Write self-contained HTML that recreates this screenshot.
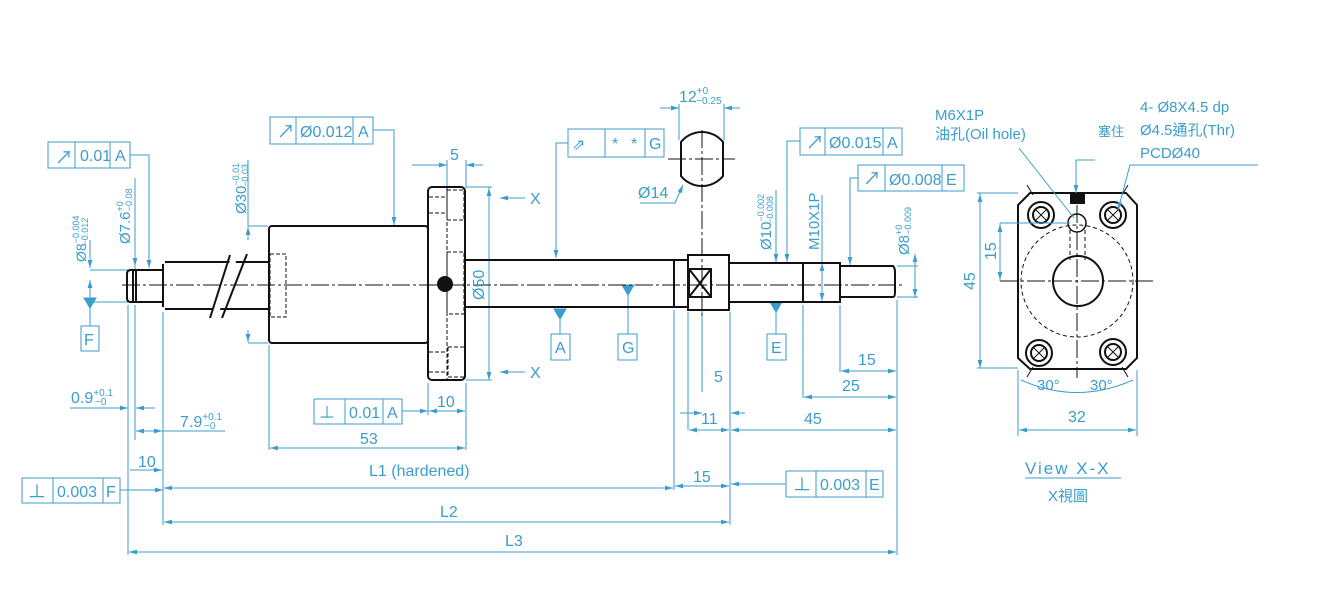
<!DOCTYPE html>
<html><head><meta charset="utf-8"><style>
html,body{margin:0;padding:0;background:#fff;}
svg{display:block;}
text{font-family:"Liberation Sans","Noto Sans CJK TC",sans-serif;fill:#3b9dcb;}
.n{font-family:"DejaVu Sans Condensed","Liberation Sans Narrow","Liberation Sans",sans-serif;font-stretch:condensed;}
</style></head><body>
<svg width="1338" height="606" viewBox="0 0 1338 606" xmlns="http://www.w3.org/2000/svg">
<defs>
<marker id="a" viewBox="0 0 10 6" refX="10" refY="3" markerWidth="8" markerHeight="5" orient="auto-start-reverse"><path d="M0,0L10,3L0,6z" fill="#3b9dcb"/></marker>
</defs>
<g fill="none" stroke="#3b9dcb" stroke-width="1">
<!-- left FCF 0.01 A -->
<rect x="48" y="142" width="82" height="26"/><line x1="75" y1="142" x2="75" y2="168"/><line x1="110" y1="142" x2="110" y2="168"/>
<path d="M130,155H149V268" marker-end="url(#a)"/>
<!-- FCF 0.012 A -->
<rect x="270" y="117" width="103" height="27"/><line x1="296" y1="117" x2="296" y2="144"/><line x1="353" y1="117" x2="353" y2="144"/>
<path d="M373,130H394V225" marker-end="url(#a)"/>
<!-- FCF G -->
<rect x="568" y="129" width="96" height="28"/><line x1="605" y1="129" x2="605" y2="157"/><line x1="645" y1="129" x2="645" y2="157"/>
<path d="M568,143H556V258" marker-end="url(#a)"/>
<!-- FCF 0.015 A -->
<rect x="800" y="128" width="102" height="27"/><line x1="825" y1="128" x2="825" y2="155"/><line x1="883" y1="128" x2="883" y2="155"/>
<path d="M800,141H787V262" marker-end="url(#a)"/>
<!-- FCF 0.008 E -->
<rect x="858" y="165" width="106" height="26"/><line x1="885" y1="165" x2="885" y2="191"/><line x1="942" y1="165" x2="942" y2="191"/>
<path d="M858,178H850V265" marker-end="url(#a)"/>
<!-- bottom FCFs -->
<rect x="314" y="399" width="88" height="25"/><line x1="345" y1="399" x2="345" y2="424"/><line x1="383" y1="399" x2="383" y2="424"/>
<path d="M402,411H428" marker-end="url(#a)"/>
<rect x="22" y="478" width="98" height="25"/><line x1="53" y1="478" x2="53" y2="503"/><line x1="103" y1="478" x2="103" y2="503"/>
<path d="M120,490H163" marker-end="url(#a)"/>
<rect x="786" y="471" width="97" height="26"/><line x1="816" y1="471" x2="816" y2="497"/><line x1="866" y1="471" x2="866" y2="497"/>
<path d="M786,484H731" marker-end="url(#a)"/>
<!-- datum F -->
<rect x="81" y="326" width="18" height="25"/><path d="M90,326V298"/><path d="M84,298H96L90,308z" fill="#3b9dcb"/>
<path d="M90,240V268" marker-end="url(#a)"/><path d="M90,280V298" marker-start="url(#a)"/>
<line x1="90" y1="270" x2="128" y2="270"/><line x1="90" y1="302" x2="128" y2="302"/>
<!-- datum A -->
<rect x="551" y="334" width="19" height="26"/><path d="M560,334V309"/><path d="M554,309H566L560,319z" fill="#3b9dcb"/>
<!-- datum G -->
<rect x="618" y="334" width="19" height="26"/><path d="M628,334V286"/><path d="M622,285H634L628,295z" fill="#3b9dcb"/>
<!-- datum E -->
<rect x="767" y="334" width="19" height="26"/><path d="M776,334V302"/><path d="M770,302H782L776,312z" fill="#3b9dcb"/>
<!-- vertical dims -->
<path d="M135,178V270"/><path d="M135,245V266" marker-end="url(#a)"/>
<path d="M248,160V226"/><path d="M248,240V227" marker-end="url(#a)"/><path d="M248,330V342" marker-end="url(#a)"/>
<line x1="248" y1="226" x2="268" y2="226"/><line x1="248" y1="343" x2="268" y2="343"/>
<path d="M489,187V380"/><path d="M489,200V188" marker-end="url(#a)"/><path d="M489,368V380" marker-end="url(#a)"/>
<line x1="466" y1="187" x2="492" y2="187"/><line x1="466" y1="380" x2="492" y2="380"/>
<path d="M776,190V263" /><path d="M776,250V262" marker-end="url(#a)"/>
<path d="M822,195V300"/><path d="M822,275V263" marker-end="url(#a)"/><path d="M822,290V301" marker-end="url(#a)"/>
<path d="M915,255V298"/><path d="M915,254V266" marker-start="url(#a)"/><path d="M915,285V297" marker-end="url(#a)"/>
<line x1="897" y1="266" x2="918" y2="266"/><line x1="897" y1="297" x2="918" y2="297"/>
<!-- X arrows -->
<path d="M525,198H500" marker-end="url(#a)"/><path d="M525,372H500" marker-end="url(#a)"/>
<!-- 5 top flange -->
<path d="M412,165H447" marker-end="url(#a)"/><path d="M483,165H466" marker-end="url(#a)"/>
<line x1="447" y1="160" x2="447" y2="188"/><line x1="466" y1="160" x2="466" y2="188"/>
<!-- 12 dims top -->
<path d="M660,108H679" marker-end="url(#a)"/><path d="M740,108H724" marker-end="url(#a)"/>
<line x1="679" y1="104" x2="679" y2="140"/><line x1="724" y1="104" x2="724" y2="140"/>
<path d="M640,203H675L683,185" marker-end="url(#a)"/>
<!-- extension lines bottom -->
<line x1="128" y1="305" x2="128" y2="555"/><line x1="135" y1="305" x2="135" y2="440"/><line x1="163" y1="312" x2="163" y2="525"/>
<line x1="269" y1="345" x2="269" y2="450"/><line x1="428" y1="383" x2="428" y2="415"/><line x1="466" y1="383" x2="466" y2="450"/>
<line x1="674" y1="310" x2="674" y2="490"/><line x1="688" y1="312" x2="688" y2="430"/><line x1="702" y1="300" x2="702" y2="392"/>
<line x1="730" y1="312" x2="730" y2="525"/><line x1="803" y1="305" x2="803" y2="398"/><line x1="840" y1="305" x2="840" y2="372"/>
<line x1="897" y1="300" x2="897" y2="555"/>
<!-- horizontal dims -->
<path d="M70,408H128" marker-end="url(#a)"/><path d="M155,408H136" marker-end="url(#a)"/>
<path d="M150,431H136" marker-end="url(#a)"/><path d="M150,431H162" marker-end="url(#a)"/><path d="M162,431H225"/>
<path d="M130,470H162" marker-end="url(#a)"/>
<path d="M445,411H429" marker-end="url(#a)"/><path d="M445,411H465" marker-end="url(#a)"/>
<path d="M360,448H270" marker-end="url(#a)"/><path d="M360,448H465" marker-end="url(#a)"/>
<path d="M400,488H164" marker-end="url(#a)"/><path d="M400,488H673" marker-end="url(#a)"/>
<path d="M702,486H675" marker-end="url(#a)"/><path d="M702,486H729" marker-end="url(#a)"/>
<path d="M450,522H164" marker-end="url(#a)"/><path d="M450,522H729" marker-end="url(#a)"/>
<path d="M500,552H129" marker-end="url(#a)"/><path d="M500,552H896" marker-end="url(#a)"/>
<path d="M680,413H702" marker-end="url(#a)"/><path d="M745,413H731" marker-end="url(#a)"/>
<path d="M710,430H689" marker-end="url(#a)"/><path d="M710,430H729" marker-end="url(#a)"/>
<path d="M810,430H731" marker-end="url(#a)"/><path d="M810,430H896" marker-end="url(#a)"/>
<path d="M870,371H841" marker-end="url(#a)"/><path d="M870,371H896" marker-end="url(#a)"/>
<path d="M850,397H804" marker-end="url(#a)"/><path d="M850,397H896" marker-end="url(#a)"/>
<line x1="660" y1="203" x2="640" y2="203"/>
</g>
<!-- part (black) -->
<g fill="none" stroke="#111" stroke-width="2">
<path d="M131,270H163V302H131Q127,302 127,298V274Q127,270 131,270Z"/>
<line x1="133" y1="270" x2="133" y2="302"/><line x1="136" y1="270" x2="136" y2="302"/>
<path d="M165,262H269M165,309H269M163,264V307"/>
<rect x="269" y="226" width="159" height="117" rx="3"/>
<rect x="428" y="187" width="37" height="193" rx="4"/>
<path d="M465,260H674M465,307H674"/>
<rect x="674" y="260" width="14" height="47"/>
<rect x="688" y="255" width="41" height="55"/>
<rect x="689" y="269" width="22" height="28"/><path d="M689,269L711,297M711,269L689,297"/>
<rect x="729" y="263" width="74" height="39"/>
<rect x="803" y="263" width="37" height="39"/>
<path d="M840,266H893Q895,268 895,272V292Q895,297 893,297H840"/>
<path d="M681,142A27,27 0 0 1 723,142V176A27,27 0 0 1 681,176Z"/>
<circle cx="445" cy="284" r="7" fill="#111"/>
</g>
<g stroke="#fff" stroke-width="6"><line x1="214" y1="318" x2="236" y2="252"/></g>
<g stroke="#111" stroke-width="2"><line x1="210" y1="318" x2="230" y2="255"/><line x1="222" y1="318" x2="247" y2="254"/></g>
<g fill="none" stroke="#111" stroke-width="1" stroke-dasharray="4,2">
<rect x="270" y="254" width="16" height="63"/>
<rect x="447" y="190" width="17" height="30"/><rect x="447" y="252" width="17" height="62"/><rect x="448" y="347" width="17" height="30"/>
<line x1="429" y1="197" x2="447" y2="197"/><line x1="429" y1="213" x2="447" y2="213"/><line x1="429" y1="352" x2="447" y2="352"/><line x1="429" y1="372" x2="447" y2="372"/>
<line x1="447" y1="186" x2="447" y2="380"/>
</g>
<g fill="none" stroke="#111" stroke-width="1" stroke-dasharray="18,3,3,3">
<line x1="122" y1="285" x2="905" y2="285"/><line x1="702" y1="130" x2="702" y2="318"/><line x1="668" y1="159" x2="735" y2="159"/>
<line x1="1000" y1="281" x2="1153" y2="281"/><line x1="1077" y1="205" x2="1077" y2="378"/>
</g>
<!-- right view -->
<g fill="none" stroke="#111" stroke-width="2">
<path d="M1030,193H1126L1137,205V358L1126,369H1030L1018,358V205Z"/>
<circle cx="1078" cy="281" r="25"/>
<circle cx="1041" cy="215" r="13"/><circle cx="1041" cy="215" r="8"/>
<circle cx="1113" cy="215" r="13"/><circle cx="1113" cy="215" r="8"/>
<circle cx="1039" cy="353" r="13"/><circle cx="1039" cy="353" r="8"/>
<circle cx="1113" cy="352" r="13"/><circle cx="1113" cy="352" r="8"/>
<circle cx="1077" cy="223" r="9" stroke-width="1.5"/>
</g>
<rect x="1070" y="193" width="15" height="11" fill="#111"/>
<g fill="none" stroke="#111" stroke-width="1" stroke-dasharray="4,3">
<circle cx="1077" cy="281" r="56"/><line x1="1070" y1="230" x2="1070" y2="260"/><line x1="1085" y1="230" x2="1085" y2="260"/>
</g>
<g stroke="#111" stroke-width="1"><path d="M1035,209l12,12M1047,209l-12,12M1107,209l12,12M1119,209l-12,12M1033,347l12,12M1045,347l-12,12M1107,346l12,12M1119,346l-12,12"/><path d="M1027,185l6,10M1128,185l-6,10M1027,377l6,-10M1128,377l-6,-10"/></g>
<g fill="none" stroke="#3b9dcb" stroke-width="1">
<path d="M1019,148L1074,218"/><path d="M1076,160V193" marker-end="url(#a)"/><path d="M1076,160H1095"/>
<path d="M1258,165H1130L1118,210" marker-end="url(#a)"/>
<path d="M980,193V368"/><path d="M980,205V194" marker-end="url(#a)"/><path d="M980,356V368" marker-end="url(#a)"/>
<line x1="977" y1="193" x2="1018" y2="193"/><line x1="977" y1="368" x2="1018" y2="368"/>
<path d="M1000,223V281"/><path d="M1000,235V224" marker-end="url(#a)"/><path d="M1000,268V280" marker-end="url(#a)"/>
<line x1="1000" y1="223" x2="1070" y2="223"/>
<path d="M1021,380Q1077,405 1133,380"/>
<line x1="1018" y1="370" x2="1018" y2="436"/><line x1="1137" y1="370" x2="1137" y2="436"/>
<path d="M1077,430H1019" marker-end="url(#a)"/><path d="M1077,430H1136" marker-end="url(#a)"/>
<line x1="1025" y1="478" x2="1121" y2="478"/>
</g>
<!-- text -->
<g class="n" font-size="16">
<text x="80" y="161">0.01</text><text x="115" y="161">A</text>
<text x="55" y="164" font-size="18">↗</text>
<text x="277" y="138" font-size="18">↗</text><text x="300" y="137">Ø0.012</text><text x="358" y="137">A</text>
<text x="572" y="150" font-size="16">⇗</text><text x="612" y="149">*</text><text x="631" y="149">*</text><text x="649" y="149">G</text>
<text x="806" y="149" font-size="18">↗</text><text x="829" y="148">Ø0.015</text><text x="887" y="148">A</text>
<text x="863" y="185" font-size="18">↗</text><text x="889" y="185">Ø0.008</text><text x="946" y="185">E</text>
<text x="319" y="418">⊥</text><text x="349" y="418">0.01</text><text x="387" y="418">A</text>
<text x="28" y="498" font-size="18">⊥</text><text x="57" y="497">0.003</text><text x="106" y="497">F</text>
<text x="793" y="491" font-size="18">⊥</text><text x="820" y="490">0.003</text><text x="869" y="490">E</text>
<text x="84" y="345">F</text><text x="555" y="353">A</text><text x="622" y="353">G</text><text x="771" y="353">E</text>
<text x="450" y="160">5</text><text x="530" y="204">X</text><text x="530" y="378">X</text>
<text x="679" y="102">12<tspan font-size="10" dy="-8">+0</tspan><tspan font-size="10" dx="-12" dy="10">−0.25</tspan></text>
<text x="638" y="198">Ø14</text>
<text x="71" y="403">0.9<tspan font-size="10" dy="-7">+0.1</tspan><tspan font-size="10" dx="-18" dy="9">−0</tspan></text>
<text x="180" y="427">7.9<tspan font-size="10" dy="-7">+0.1</tspan><tspan font-size="10" dx="-18" dy="9">−0</tspan></text>
<text x="138" y="467">10</text><text x="437" y="407">10</text><text x="360" y="444">53</text>
<text x="369" y="476">L1 (hardened)</text><text x="693" y="482">15</text><text x="440" y="517">L2</text><text x="505" y="546">L3</text>
<text x="714" y="382">5</text><text x="701" y="424">11</text><text x="804" y="424">45</text><text x="858" y="365">15</text><text x="842" y="391">25</text>
<text transform="translate(86,262) rotate(-90)" font-size="14">Ø8<tspan font-size="9" dy="-7">−0.004</tspan><tspan font-size="9" dx="-30" dy="9">−0.012</tspan></text>
<text transform="translate(130,244) rotate(-90)" font-size="15">Ø7.6<tspan font-size="9" dy="-7">+0</tspan><tspan font-size="9" dx="-10" dy="9">−0.08</tspan></text>
<text transform="translate(246,214) rotate(-90)" font-size="15">Ø30<tspan font-size="9" dy="-7">−0.01</tspan><tspan font-size="9" dx="-24" dy="9">−0.03</tspan></text>
<text transform="translate(484,300) rotate(-90)">Ø50</text>
<text transform="translate(771,250) rotate(-90)" font-size="15">Ø10<tspan font-size="9" dy="-7">−0.002</tspan><tspan font-size="9" dx="-30" dy="9">−0.008</tspan></text>
<text transform="translate(819,250) rotate(-90)" font-size="15">M10X1P</text>
<text transform="translate(909,255) rotate(-90)" font-size="15">Ø8<tspan font-size="9" dy="-7">+0</tspan><tspan font-size="9" dx="-10" dy="9">−0.009</tspan></text>
<text transform="translate(975,290) rotate(-90)">45</text>
<text transform="translate(996,260) rotate(-90)">15</text>
<text x="1037" y="390" font-size="15">30°</text><text x="1090" y="390" font-size="15">30°</text>
<text x="1068" y="422">32</text>
<text x="1025" y="474" font-size="17" letter-spacing="2">View X-X</text>
</g>
<g font-size="15">
<text x="935" y="120">M6X1P</text><text x="935" y="139">油孔(Oil hole)</text>
<text x="1098" y="136" font-size="13">塞住</text>
<text x="1140" y="112">4- Ø8X4.5 dp</text><text x="1140" y="135">Ø4.5通孔(Thr)</text><text x="1140" y="158">PCDØ40</text>
<text x="1048" y="501">X視圖</text>
</g>
</svg>
</body></html>
